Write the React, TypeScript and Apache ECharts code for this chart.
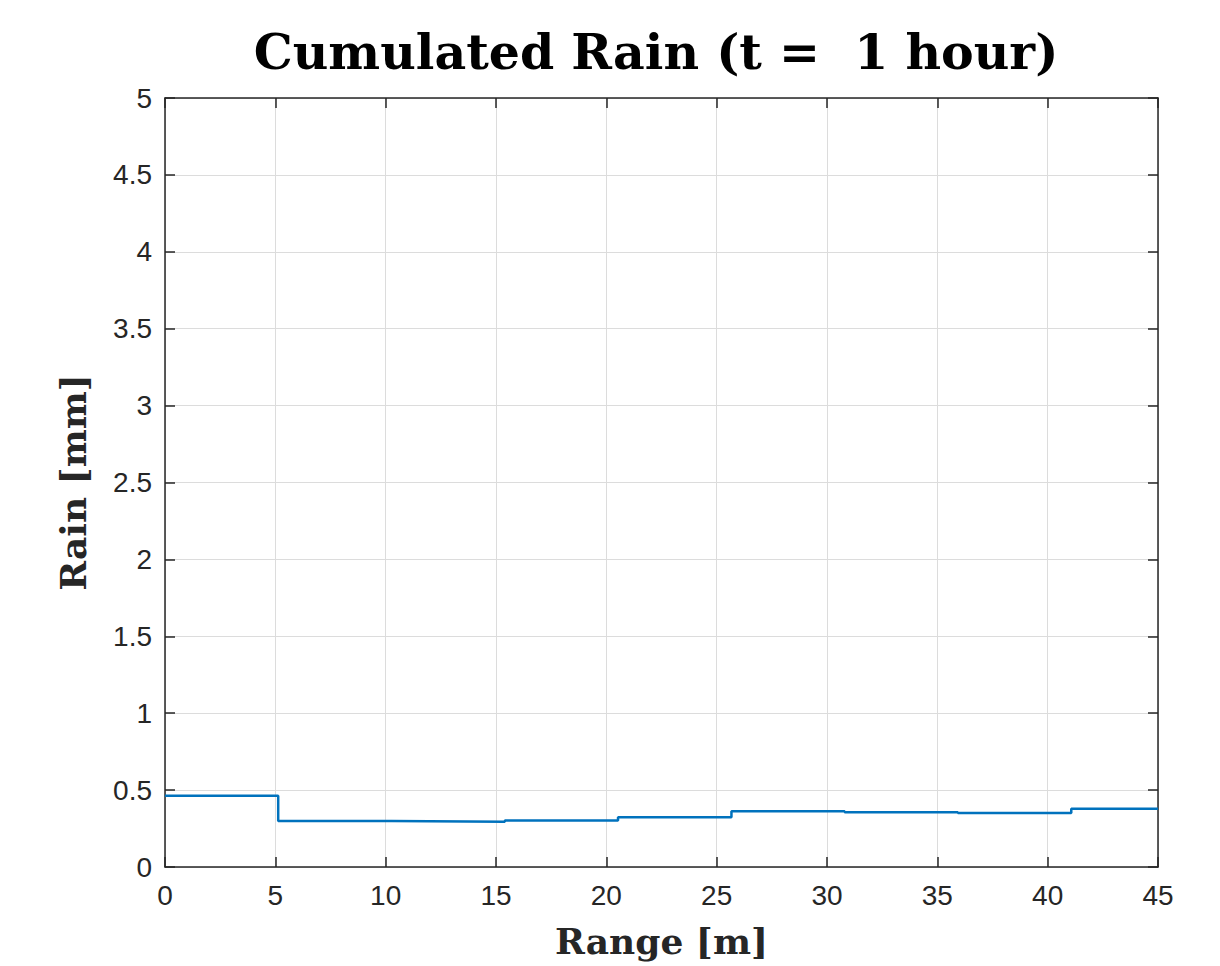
import React, { useEffect, useRef } from "react";
import * as echarts from "echarts";

const stepStarts = [0, 5.13, 10.27, 15.4, 20.53, 25.67, 30.8, 35.93, 41.07, 45];
const rainValues = [0.464, 0.299, 0.295, 0.303, 0.323, 0.362, 0.356, 0.351, 0.379, 0.379];
const xTicks = [0, 5, 10, 15, 20, 25, 30, 35, 40, 45];
const yTicks = [0, 0.5, 1, 1.5, 2, 2.5, 3, 3.5, 4, 4.5, 5];

const AXIS = "#262626";
const serif = "'DejaVu Serif', 'Liberation Serif', serif";
const sans = "'Liberation Sans', Arial, sans-serif";

export default function App() {
  const ref = useRef<HTMLDivElement>(null);
  useEffect(() => {
    if (!ref.current) return;
    const chart = echarts.init(ref.current, undefined, { renderer: "svg" });
    const data = stepStarts.map((x, i) => [x, rainValues[i]]);
    const common = {
      min: 0,
      axisLine: { show: true, onZero: false, lineStyle: { color: AXIS, width: 1.5 } },
      axisTick: { show: true, inside: true, length: 10, lineStyle: { color: AXIS, width: 1.5 } },
    };
    chart.setOption({
      animation: false,
      backgroundColor: "#ffffff",
      title: {
        text: "Cumulated Rain (t =  1 hour)",
        left: 651,
        top: 22,
        textAlign: "center",
        textStyle: { fontFamily: serif, fontWeight: "bold", fontSize: 49, color: "#000" },
      },
      grid: { left: 165, top: 98, width: 993, height: 769 },
      xAxis: [
        {
          ...common,
          type: "value",
          max: 45,
          interval: 5,
          position: "bottom",
          name: "Range [m]",
          nameLocation: "middle",
          nameGap: 56,
          nameTextStyle: { fontFamily: serif, fontWeight: "bold", fontSize: 36, color: AXIS },
          axisLabel: {
            fontFamily: sans,
            fontSize: 28,
            color: AXIS,
            margin: 14,
            formatter: (v: number) => (xTicks.includes(v) ? String(v) : ""),
          },
          splitLine: { show: true, lineStyle: { color: "#dcdcdc", width: 1 } },
        },
        {
          ...common,
          type: "value",
          max: 45,
          interval: 5,
          position: "top",
          axisLabel: { show: false },
          splitLine: { show: false },
        },
      ],
      yAxis: [
        {
          ...common,
          type: "value",
          max: 5,
          interval: 0.5,
          position: "left",
          name: "Rain [mm]",
          nameLocation: "middle",
          nameGap: 74,
          nameTextStyle: { fontFamily: serif, fontWeight: "bold", fontSize: 36, color: AXIS },
          axisLabel: {
            fontFamily: sans,
            fontSize: 28,
            color: AXIS,
            margin: 13,
            formatter: (v: number) => (yTicks.includes(v) ? String(v) : ""),
          },
          splitLine: { show: true, lineStyle: { color: "#dcdcdc", width: 1 } },
        },
        {
          ...common,
          type: "value",
          max: 5,
          interval: 0.5,
          position: "right",
          axisLabel: { show: false },
          splitLine: { show: false },
        },
      ],
      series: [
        {
          type: "line",
          step: "end",
          data,
          showSymbol: false,
          lineStyle: { color: "#0072BD", width: 2.5 },
          itemStyle: { color: "#0072BD" },
        },
      ],
    });
    return () => chart.dispose();
  }, []);
  return (
    <div
      ref={ref}
      style={{ position: "fixed", left: 0, top: 0, width: 1220, height: 966, background: "#fff" }}
    />
  );
}
